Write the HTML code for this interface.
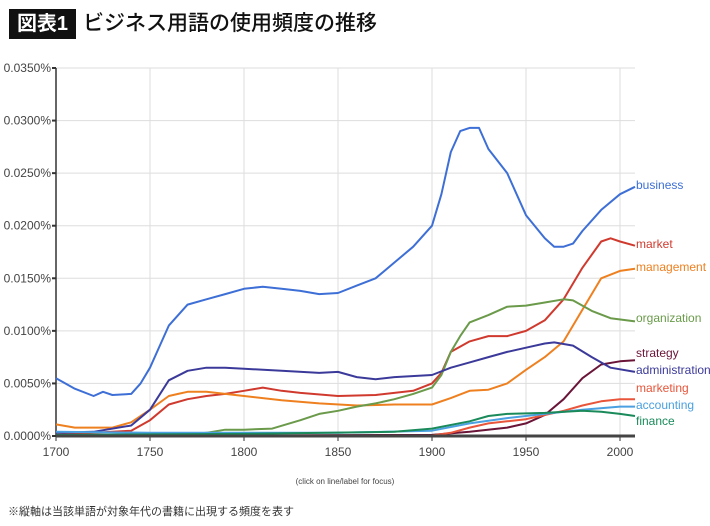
<!DOCTYPE html>
<html><head><meta charset="utf-8"><style>
body{margin:0;background:#fff;width:710px;height:526px;overflow:hidden;font-family:"Liberation Sans","Noto Sans CJK JP",sans-serif}
#title-badge{position:absolute;left:9px;top:9px;width:67px;height:30px;background:#111;color:#fff;font-weight:bold;font-size:20px;line-height:30px;text-align:center}
#title{position:absolute;left:83px;top:8px;font-size:21px;line-height:32px;color:#111;font-weight:500}
#note{position:absolute;left:8px;top:503px;font-size:11px;color:#333}
svg{position:absolute;left:0;top:0}
</style></head><body>
<div id="title-badge">図表1</div>
<div id="title">ビジネス用語の使用頻度の推移</div>
<div id="note">※縦軸は当該単語が対象年代の書籍に出現する頻度を表す</div>
<svg id="chart" width="710" height="526"></svg>
<script>
const yTicks=[0,0.005,0.01,0.015,0.02,0.025,0.03,0.035];
const yTickLabels=["0.0000%","0.0050%","0.0100%","0.0150%","0.0200%","0.0250%","0.0300%","0.0350%"];
const xTicks=[1700,1750,1800,1850,1900,1950,2000];
const seriesNames=["business","market","management","organization","strategy","administration","marketing","accounting","finance"];
const seriesColors=["#3d6fd6","#d03a2e","#ee8020","#6a9a4a","#6a1538","#3b3a9a","#e8553a","#4aa0e0","#1a8a5a"];
const labelY=[185,244,267,318,353,370,388,405,421];
// values in units of 0.001%
const business=[[1700,5.5],[1710,4.5],[1720,3.8],[1725,4.2],[1730,3.9],[1740,4.0],[1745,5.0],[1750,6.5],[1755,8.5],[1760,10.5],[1765,11.5],[1770,12.5],[1780,13],[1790,13.5],[1800,14],[1810,14.2],[1820,14],[1830,13.8],[1840,13.5],[1850,13.6],[1860,14.3],[1870,15],[1880,16.5],[1890,18],[1900,20],[1905,23],[1910,27],[1915,29],[1920,29.3],[1925,29.3],[1930,27.3],[1940,25],[1950,21],[1960,18.8],[1965,18],[1970,18],[1975,18.3],[1980,19.5],[1990,21.5],[2000,23],[2008,23.7]];
const market=[[1700,0.1],[1740,0.5],[1750,1.5],[1760,3],[1770,3.5],[1780,3.8],[1790,4],[1800,4.3],[1810,4.6],[1820,4.3],[1830,4.1],[1850,3.8],[1870,3.9],[1890,4.3],[1900,5],[1905,6],[1910,8],[1920,9],[1930,9.5],[1940,9.5],[1950,10],[1960,11],[1970,13],[1980,16],[1990,18.5],[1995,18.8],[2000,18.5],[2008,18.1]];
const management=[[1700,1.1],[1710,0.8],[1730,0.8],[1740,1.3],[1750,2.5],[1760,3.8],[1765,4],[1770,4.2],[1780,4.2],[1790,4.0],[1800,3.8],[1820,3.4],[1840,3.1],[1860,2.9],[1880,3.0],[1900,3.0],[1910,3.6],[1920,4.3],[1930,4.4],[1940,5.0],[1950,6.3],[1960,7.5],[1970,9],[1980,12],[1990,15],[2000,15.7],[2008,15.9]];
const organization=[[1700,0.05],[1770,0.1],[1780,0.3],[1790,0.6],[1800,0.6],[1815,0.7],[1830,1.5],[1840,2.1],[1850,2.4],[1860,2.8],[1870,3.1],[1880,3.5],[1890,4],[1900,4.6],[1905,5.8],[1910,8],[1915,9.5],[1920,10.8],[1930,11.5],[1940,12.3],[1950,12.4],[1960,12.7],[1970,13],[1975,12.9],[1985,11.9],[1995,11.2],[2008,10.9]];
const strategy=[[1700,0.02],[1900,0.1],[1920,0.4],[1940,0.8],[1950,1.2],[1960,2],[1970,3.5],[1980,5.5],[1990,6.8],[2000,7.1],[2008,7.2]];
const administration=[[1700,0.3],[1720,0.4],[1740,1],[1750,2.5],[1760,5.3],[1770,6.2],[1780,6.5],[1790,6.5],[1800,6.4],[1820,6.2],[1840,6],[1850,6.1],[1860,5.6],[1870,5.4],[1880,5.6],[1900,5.8],[1910,6.5],[1920,7],[1930,7.5],[1940,8],[1950,8.4],[1960,8.8],[1965,8.9],[1975,8.6],[1985,7.5],[1995,6.5],[2008,6.1]];
const marketing=[[1700,0.02],[1900,0.05],[1910,0.3],[1920,0.8],[1930,1.2],[1940,1.4],[1950,1.6],[1960,2],[1970,2.4],[1980,2.9],[1990,3.3],[2000,3.5],[2008,3.5]];
const accounting=[[1700,0.4],[1750,0.3],[1850,0.3],[1900,0.5],[1920,1.2],[1940,1.7],[1960,2.1],[1980,2.5],[2000,2.8],[2008,2.8]];
const finance=[[1700,0.1],[1800,0.2],[1880,0.4],[1900,0.7],[1920,1.4],[1930,1.9],[1940,2.1],[1960,2.2],[1980,2.4],[1990,2.3],[2000,2.1],[2008,1.9]];
const allSeries=[business,market,management,organization,strategy,administration,marketing,accounting,finance];

const svg=document.getElementById('chart');const NS='http://www.w3.org/2000/svg';
const X0=56,X1=635,Y0=436,Y1=68;
const xs=y=>X0+(y-1700)*(620-56)/300;
const ys=v=>Y0-v*(Y0-Y1)/0.035;
function mk(t,a){const e=document.createElementNS(NS,t);for(const k in a)e.setAttribute(k,a[k]);svg.appendChild(e);return e;}
yTicks.forEach((t,i)=>{
 const g=mk('line',{x1:X0,x2:X1,y1:ys(t),y2:ys(t),stroke:'#ddd','stroke-width':1});
 
 
 const tk=mk('line',{x1:X0-4,x2:X0,y1:ys(t),y2:ys(t),stroke:'#333','stroke-width':2});
 
 
 const l=mk('text',{x:X0-5,y:ys(t)+4,'text-anchor':'end','font-size':12,fill:'#444'});l.textContent=yTickLabels[i];
 
 
});
xTicks.forEach(t=>{
 const g=mk('line',{x1:xs(t),x2:xs(t),y1:Y1,y2:Y0,stroke:'#ddd','stroke-width':1});
 
 
 const tk=mk('line',{x1:xs(t),x2:xs(t),y1:Y0,y2:Y0+5,stroke:'#333','stroke-width':1});
 
 
 const l=mk('text',{x:xs(t),y:Y0+20,'text-anchor':'middle','font-size':12,fill:'#444'});l.textContent=t;
 
 
});
const ax=mk('line',{x1:X0,x2:X0,y1:Y1,y2:Y0,stroke:'#333','stroke-width':1.5});


allSeries.forEach((s,i)=>{
 const d=s.map((p,j)=>(j?'L':'M')+xs(p[0]).toFixed(1)+','+ys(p[1]/1000).toFixed(1)).join('');
 const p=mk('path',{d:d,fill:'none',stroke:seriesColors[i],'stroke-width':2,'stroke-linejoin':'round'});
 
 
 const l=mk('text',{x:X1+1,y:labelY[i]+4,'font-size':12,fill:seriesColors[i]});l.textContent=seriesNames[i];
 
 
});
const bx=mk('line',{x1:X0,x2:X1,y1:Y0,y2:Y0,stroke:'#444','stroke-width':3});


const h=mk('text',{x:345,y:484,'text-anchor':'middle','font-size':8,fill:'#444'});h.textContent='(click on line/label for focus)';


</script>
</body></html>
